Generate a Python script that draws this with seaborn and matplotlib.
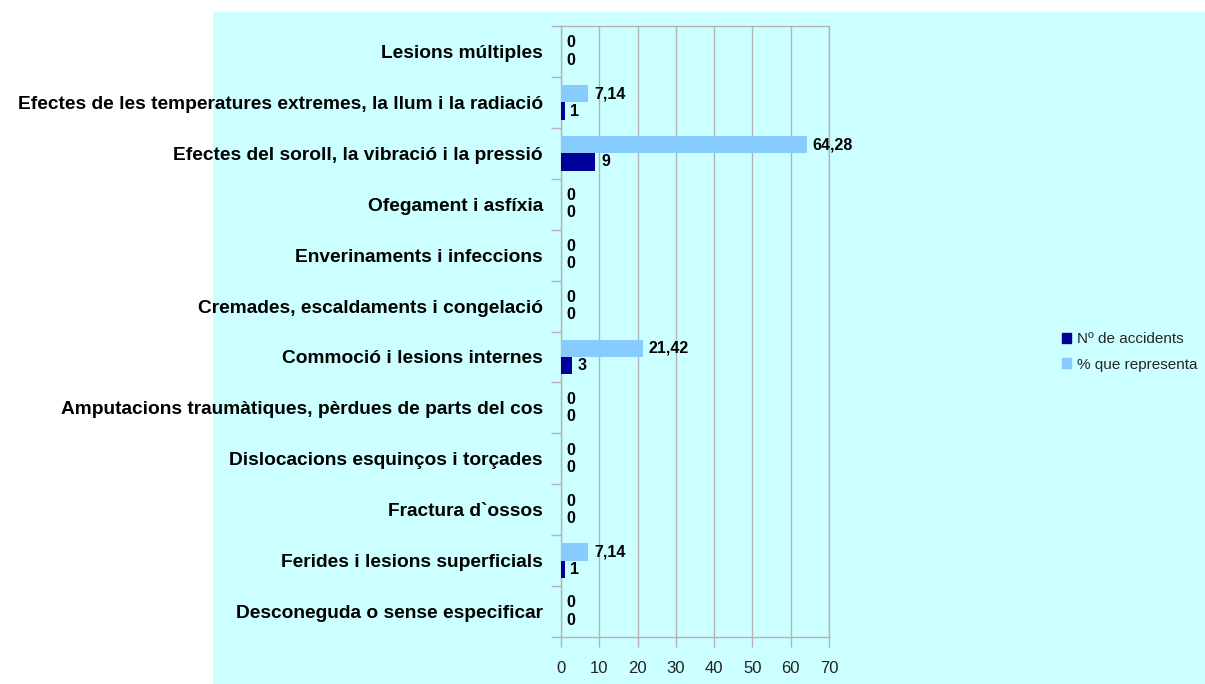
import numpy as np
import pandas as pd
import seaborn as sns
from matplotlib import pyplot as plt
from matplotlib.ticker import FixedLocator

sns.set_style('white')
plt.rcParams['font.family'] = ['Liberation Sans', 'DejaVu Sans']

categories = [
    'Lesions múltiples',
    'Efectes de les temperatures extremes, la llum i la radiació',
    'Efectes del soroll, la vibració i la pressió',
    'Ofegament i asfíxia',
    'Enverinaments i infeccions',
    'Cremades, escaldaments i congelació',
    'Commoció i lesions internes',
    'Amputacions traumàtiques, pèrdues de parts del cos',
    'Dislocacions esquinços i torçades',
    'Fractura d`ossos',
    'Ferides i lesions superficials',
    'Desconeguda o sense especificar',
]
n_accidents = [0, 1, 9, 0, 0, 0, 3, 0, 0, 0, 1, 0]
pct = [0, 7.14, 64.28, 0, 0, 0, 21.42, 0, 0, 0, 7.14, 0]
series = ['Nº de accidents', '% que representa']

df = pd.DataFrame({
    'cat': categories * 2,
    'valor': n_accidents + pct,
    'serie': [series[0]] * len(categories) + [series[1]] * len(categories),
})

bg = '#ccffff'
grid_c = '#b3b3b3'
palette = {series[0]: '#000099', series[1]: '#87cbff'}

fig = plt.figure(figsize=(12.05, 6.84), dpi=100, facecolor='white')
bg_ax = fig.add_axes([213 / 1205, 0, 1 - 213 / 1205, 1 - 12 / 684], zorder=-1)
bg_ax.set_facecolor(bg)
bg_ax.set_xticks([])
bg_ax.set_yticks([])
for s in bg_ax.spines.values():
    s.set_visible(False)

ax = fig.add_axes([561 / 1205, 1 - 637 / 684, (829 - 561) / 1205, (637 - 26) / 684])
ax.set_facecolor(bg)

sns.barplot(data=df, y='cat', x='valor', hue='serie', orient='h',
            hue_order=[series[1], series[0]], order=categories,
            palette=palette, width=0.68, saturation=1, ax=ax, zorder=3,
            edgecolor='none', linewidth=0)

def fmt(v):
    if float(v).is_integer():
        return str(int(v))
    return f'{v:.2f}'.replace('.', ',')

for cont, vals in zip(ax.containers, [pct, n_accidents]):
    ax.bar_label(cont, labels=[fmt(v) for v in vals], padding=4,
                 fontsize=11.5, fontweight='bold', color='black')

ax.set_xlim(0, 70)
ax.set_xticks(range(0, 71, 10))
ax.set_ylim(len(categories) - 0.5, -0.5)
ax.grid(axis='x', color=grid_c, linewidth=1, zorder=0)
ax.set_axisbelow(True)
for s in ax.spines.values():
    s.set_color(grid_c)
    s.set_linewidth(1)

ax.yaxis.set_minor_locator(FixedLocator(np.arange(-0.5, len(categories), 1)))
ax.tick_params(axis='y', which='both', left=True)
ax.tick_params(axis='y', which='major', length=0, pad=13, labelsize=13.8,
               labelcolor='black')
ax.tick_params(axis='y', which='minor', length=7, color=grid_c, width=1)
ax.tick_params(axis='x', bottom=True, length=7, color=grid_c, width=1, pad=10,
               labelsize=12, labelcolor='#222222')
for lab in ax.get_yticklabels():
    lab.set_fontweight('bold')
ax.set_xlabel('')
ax.set_ylabel('')

leg = ax.legend([plt.Rectangle((0, 0), 1, 1, color=palette[s]) for s in series],
                series, loc='center left', bbox_to_anchor=(1048 / 1205, 1 - 352 / 684),
                bbox_transform=fig.transFigure, frameon=False, fontsize=11,
                handlelength=0.6, handleheight=0.6, handletextpad=0.4,
                labelspacing=0.75)

fig.savefig('out.png', dpi=100, facecolor='white')
